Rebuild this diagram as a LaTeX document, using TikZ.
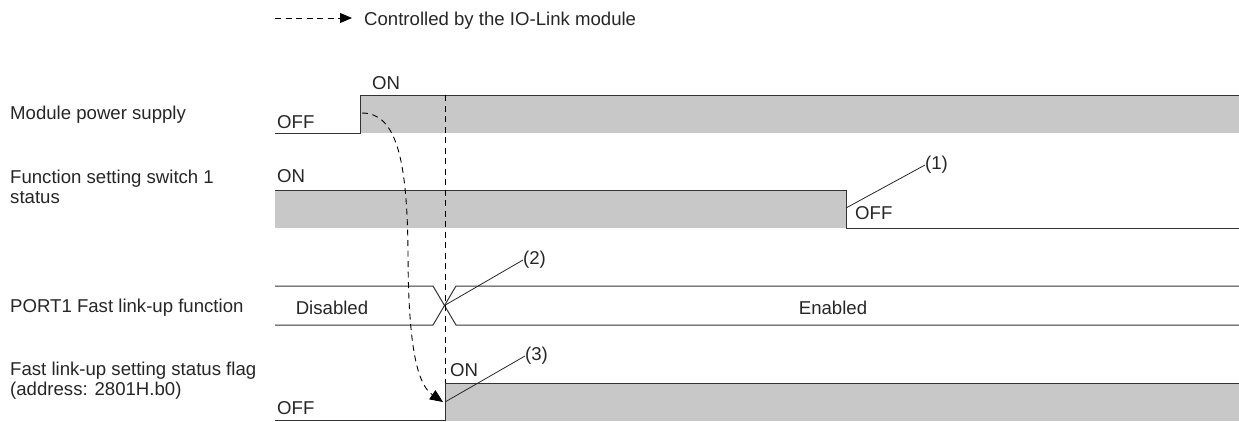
\documentclass[tikz,border=0pt]{standalone}
\usepackage{fontspec}
\setmainfont{Liberation Sans}
\usetikzlibrary{arrows.meta}
\definecolor{sig}{HTML}{333333}
\definecolor{fillg}{HTML}{C8C8C8}
\begin{document}
\begin{tikzpicture}[x=1pt,y=-1pt,
  txt/.style={inner sep=0pt,font=\fontsize{18.6}{20}\selectfont,text=black!85},
  lbl/.style={txt,anchor=base west,align=left},
  sigline/.style={draw=sig,line width=1pt},
  sigfill/.style={fill=fillg},
  leader/.style={draw=black!85,line width=0.8pt},
  ctrl/.style={draw=black,line width=0.9pt,dash pattern=on 6pt off 4.5pt}]
\useasboundingbox (0,0) rectangle (1239,421);
% legend
\coordinate (lgA) at (275,18);
\coordinate (lgB) at (352,18);
\draw[ctrl,-{Triangle[length=12pt,width=10pt]}] (lgA) -- (lgB);
\node[lbl] (lgT) at (364,25) {Controlled by the IO-Link module};
% left labels
\node[lbl] (l1) at (10,119) {Module power supply};
\node[lbl] (l2) at (10,203) {Function setting switch 1\\status};
\node[lbl] (l3) at (10,312) {PORT1 Fast link-up function};
\node[lbl] (l4) at (10,395) {Fast link-up setting status flag\\(address: 2801H.b0)};
% row 1
\fill[sigfill] (360,95) rectangle (1239,133);
\draw[sigline] (275,133) -- (360,133) -- (360,95) -- (1239,95);
\node[lbl] (on1) at (372,89) {ON};
\node[lbl] (off1) at (277,128) {OFF};
% row 2
\fill[sigfill] (275,190) rectangle (846,228);
\draw[sigline] (275,190) -- (846,190) -- (846,228) -- (1239,228);
\node[lbl] (on2) at (277,182) {ON};
\node[lbl] (off2) at (855,219) {OFF};
\coordinate (p1) at (846,208);
\node[txt,anchor=west] (n1) at (925,165) {(1)};
\draw[leader] (p1) -- (n1.west);
% row 3
\draw[sigline] (275,286) -- (433,286) -- (456,325) -- (1239,325);
\draw[sigline] (275,325) -- (433,325) -- (456,286) -- (1239,286);
\node[txt] (dis) at (332,308) {Disabled};
\node[txt] (en) at (833,308) {Enabled};
\coordinate (p2) at (444.5,305.5);
\node[txt,anchor=west] (n2) at (523,260) {(2)};
\draw[leader] (p2) -- (n2.west);
% row 4
\fill[sigfill] (445,383) rectangle (1239,421);
\draw[sigline] (275,420) -- (445,420) -- (445,383) -- (1239,383);
\node[lbl] (on4) at (450,376) {ON};
\node[lbl] (off4) at (277,414) {OFF};
\coordinate (p3) at (445,402);
\node[txt,anchor=west] (n3) at (525,356) {(3)};
\draw[leader] (p3) -- (n3.west);
% vertical dashed line
\coordinate (vA) at (445,95);
\coordinate (vB) at (445,383);
\draw[ctrl,line width=0.8pt] (vA) -- (vB);
% curved control arrow
\coordinate (cA) at (362,113);
\coordinate (cB) at (443,402);
\draw[ctrl,-{Triangle[length=13pt,width=11pt]}] (cA) .. controls (398,113) and (407,165) .. (408,250) .. controls (408,350) and (418,385) .. (cB);
\end{tikzpicture}
\end{document}
